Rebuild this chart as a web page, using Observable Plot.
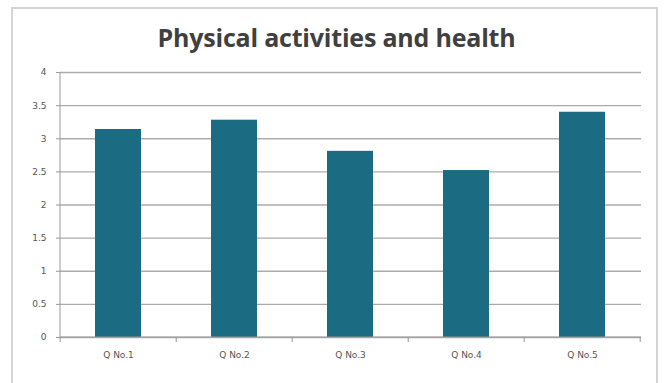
<!DOCTYPE html>
<html>
<head>
<meta charset="utf-8">
<script src="https://cdn.jsdelivr.net/npm/d3@7"></script>
<script src="https://cdn.jsdelivr.net/npm/@observablehq/plot@0.6"></script>
<style>
  html, body { margin: 0; padding: 0; background: #fff; }
  #wrap { position: relative; width: 665px; height: 383px; overflow: hidden; background: #fff; }
  #frame { position: absolute; left: 11px; top: 7px; width: 647px; height: 400px;
           border: 2px solid #d4d4d4; box-sizing: border-box; pointer-events: none; }
  #title { height: 55px; line-height: 74px; text-align: center; font-family: "Open Sans", sans-serif;
           font-weight: bold; font-size: 25px; letter-spacing: -0.2px; color: #404040; padding-left: 8px; }
  svg { display: block; }
</style>
</head>
<body>
<div id="wrap">
  <div id="title">Physical activities and health</div>
  <div id="chart"></div>
  <div id="frame"></div>
</div>
<script>
const categories = ["Q No.1", "Q No.2", "Q No.3", "Q No.4", "Q No.5"];
const values = [3.14, 3.28, 2.81, 2.52, 3.40];
const yTicks = [0, 0.5, 1, 1.5, 2, 2.5, 3, 3.5, 4];
const yTickLabels = ["0", "0.5", "1", "1.5", "2", "2.5", "3", "3.5", "4"];

const data = categories.map((c, i) => ({ q: c, v: values[i] }));

const chart = Plot.plot({
  width: 665,
  height: 328,
  marginLeft: 60,
  marginRight: 24,
  marginTop: 17,
  marginBottom: 46,
  style: { fontFamily: "DejaVu Sans, sans-serif", fontSize: "9px", color: "#555", background: "transparent" },
  x: { domain: categories, paddingInner: 0.6, paddingOuter: 0.3, label: null },
  y: { domain: [0, 4], label: null },
  marks: [
    Plot.ruleY(yTicks, { stroke: "#ababab", strokeWidth: 1.3 }),
    Plot.barY(data, { x: "q", y: "v", fill: "#1b6b82" }),
    Plot.axisY(yTicks, { tickFormat: (d, i) => yTickLabels[i], tickSize: 4, tickPadding: 10, stroke: "#999", label: null }),
    Plot.axisX({ tickSize: 0, tickPadding: 14, label: null })
  ]
});
document.getElementById("chart").appendChild(chart);

// axis lines & band boundary ticks, positioned through the plot's scales
const xs = chart.scale("x");
const ys = chart.scale("y");
const svg = d3.select(chart);
const y0 = ys.apply(0);
const left = xs.range[0], right = xs.range[1];
const g = svg.append("g").attr("stroke", "#999");
g.append("line").attr("x1", left).attr("x2", left).attr("y1", ys.apply(4)).attr("y2", y0);
g.append("line").attr("x1", left).attr("x2", right).attr("y1", y0).attr("y2", y0);
const step = xs.step;
for (let i = 0; i <= categories.length; i++) {
  const x = xs.apply(categories[0]) - step * xs.paddingOuter + i * step;
  g.append("line").attr("x1", x).attr("x2", x).attr("y1", y0).attr("y2", y0 + 5);
}
</script>
</body>
</html>
